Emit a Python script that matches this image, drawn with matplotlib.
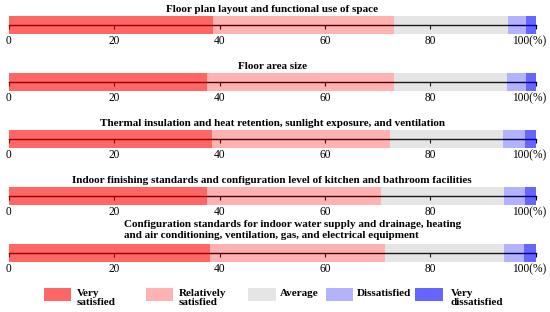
import matplotlib
matplotlib.use('Agg')
import matplotlib.pyplot as plt
from matplotlib.patches import Rectangle
from matplotlib.transforms import ScaledTranslation

plt.rcParams['font.family'] = ['Liberation Serif', 'DejaVu Serif']

titles = [
    'Floor plan layout and functional use of space',
    'Floor area size',
    'Thermal insulation and heat retention, sunlight exposure, and ventilation',
    'Indoor finishing standards and configuration level of kitchen and bathroom facilities',
    'Configuration standards for indoor water supply and drainage, heating\n'
    'and air conditioning, ventilation, gas, and electrical equipment',
]
levels = ['Very\nsatisfied', 'Relatively\nsatisfied', 'Average', 'Dissatisfied', 'Very\ndissatisfied']

very_satisfied = [38.7, 37.7, 38.5, 37.7, 38.1]
relatively_satisfied = [34.3, 35.3, 33.9, 32.9, 33.3]
average = [21.7, 21.5, 21.4, 23.3, 22.5]
dissatisfied = [3.4, 3.7, 4.1, 4.1, 3.8]
very_dissatisfied = [1.9, 1.8, 2.1, 2.0, 2.3]

tick_values = [0, 20, 40, 60, 80, 100]
tick_labels = ['0', '20', '40', '60', '80', '100(%)']

# base colour + alpha, drawn over the axis line
colors = [('red', 0.6), ('red', 0.3), ('gray', 0.2), ('blue', 0.3), ('blue', 0.6)]

W, H = 550, 312
fig = plt.figure(figsize=(W / 100, H / 100), dpi=100)

series = [very_satisfied, relatively_satisfied, average, dissatisfied, very_dissatisfied]
left_px, right_px = 8.8, 535.8
bar_h = 18.5

for i, title in enumerate(titles):
    top = 15.7 + 57 * i
    ax = fig.add_axes([left_px / W, 1 - (top + bar_h) / H, (right_px - left_px) / W, bar_h / H])
    start = 0
    for vals, (c, a) in zip(series, colors):
        ax.barh(0, vals[i], left=start, height=1, color=c, alpha=a, linewidth=0, zorder=3)
        start += vals[i]
    ax.set_xlim(0, 100)
    ax.set_ylim(-0.5, 0.5)
    ax.set_yticks([])
    for s in ['top', 'left', 'right']:
        ax.spines[s].set_visible(False)
    ax.spines['bottom'].set_position(('data', 0))
    ax.spines['bottom'].set_linewidth(1.0)
    ax.set_xticks(tick_values)
    ax.set_xticklabels(tick_labels, fontsize=8.3)
    ax.tick_params(axis='x', direction='out', length=3, width=0.8, pad=4.2)
    last = ax.get_xticklabels()[-1]
    last.set_transform(last.get_transform() + ScaledTranslation(-6.5 / 100, 0, fig.dpi_scale_trans))
    if '\n' in title:
        ax.text((123.5 - left_px) / (right_px - left_px), 1.22, title, transform=ax.transAxes,
                ha='left', va='bottom', fontsize=8, fontweight='bold', linespacing=1.25)
    else:
        ax.set_title(title, fontsize=8, fontweight='bold', pad=2.5)

# legend
patch_x = [43.5, 145.6, 248.4, 325.6, 415.4]
text_x = [76.5, 179, 279.6, 357.2, 450.9]
for px, tx, lab, (c, a) in zip(patch_x, text_x, levels, colors):
    fig.patches.append(Rectangle((px / W, 1 - 300.8 / H), 27.7 / W, 12.5 / H,
                                 transform=fig.transFigure, color=c, alpha=a, linewidth=0))
    fig.text(tx / W, 1 - 288.5 / H, lab, ha='left', va='top', fontsize=8,
             fontweight='bold', linespacing=1.1)

fig.savefig('out.png', dpi=100)
